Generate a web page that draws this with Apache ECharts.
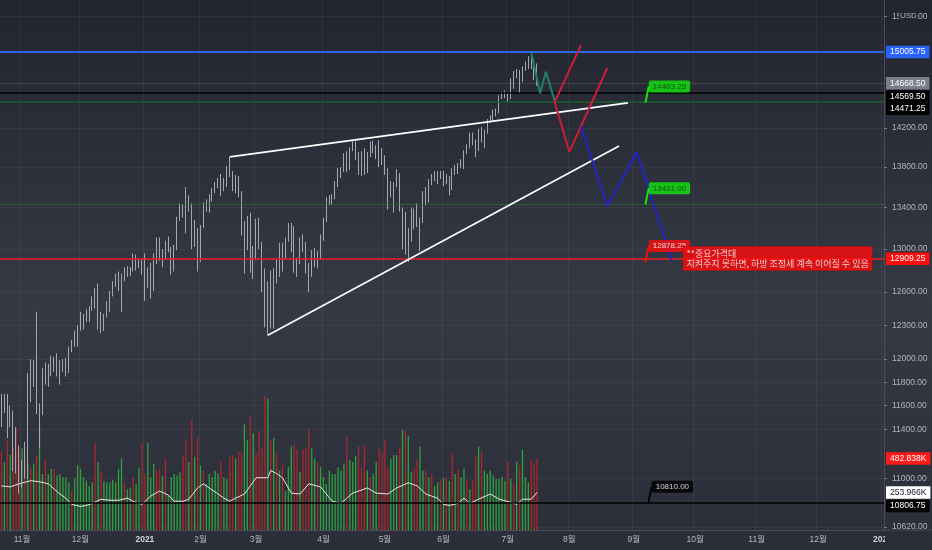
<!DOCTYPE html>
<html><head><meta charset="utf-8">
<script src="https://cdn.jsdelivr.net/npm/echarts@6/dist/echarts.min.js"></script>
<style>html,body{margin:0;padding:0;background:#2a2d38}#c{width:932px;height:550px}</style>
</head><body><div id="c"></div>
<script>
// ---------- categories (trading days) ----------
const startDate = '2020-10-22';
const endDate = '2022-01-03';
const holidays = ['2020-11-26','2020-12-25','2021-01-01','2021-01-18','2021-02-15','2021-04-02','2021-05-31','2021-07-05','2021-09-06','2021-11-25','2021-12-24'];

// ---------- daily OHLC, 2020-10-22 .. 2021-07-16 ----------
const opens = [11560,11650,11660,11440,11540,11080,11260,10960,11030,11220,11640,11940,12000,11570,11540,11890,11830,11940,11990,11950,11860,11970,11900,11940,12090,12120,12230,12270,12370,12360,12380,12460,12530,12580,12310,12390,12380,12440,12600,12670,12740,12760,12740,12810,12770,12800,12900,12850,12840,12880,12690,12800,12620,12940,13100,12930,12930,13050,12990,12800,13000,13300,13400,13370,13440,13420,13070,13190,12920,13210,13400,13380,13520,13560,13640,13640,13600,13660,13800,13750,13700,13610,13550,13160,13190,13290,12810,12920,13270,13010,12620,12380,12660,12290,12780,12750,13040,12990,13100,13160,13200,12800,12880,13090,13020,12800,12790,12980,12970,12910,13090,13290,13490,13460,13500,13640,13780,13770,13930,13780,13990,14040,13920,13810,13950,13750,13920,14040,13970,13920,13960,13850,13780,13560,13530,13620,13720,13380,13330,12990,13090,13380,13300,13230,13280,13540,13460,13660,13680,13730,13700,13690,13660,13700,13580,13770,13800,13800,13810,13960,14020,14140,14040,14030,14160,14070,14170,14270,14290,14370,14360,14530,14560,14550,14520,14700,14780,14800,14710,14840,14880,14850,14900,14780];
const highs = [11700,11700,11700,11600,11560,11420,11270,11150,11300,11880,12000,11990,12420,11620,11920,11970,11960,12030,12020,12050,11990,12000,12010,12110,12170,12250,12300,12420,12400,12440,12470,12560,12640,12680,12420,12400,12520,12610,12700,12770,12790,12770,12830,12840,12830,12960,12950,12910,12900,12960,12830,12870,12960,13110,13110,13000,13080,13120,13020,13040,13310,13440,13430,13600,13520,13440,13280,13200,13230,13450,13480,13530,13590,13650,13690,13730,13690,13810,13902,13760,13720,13710,13560,13270,13320,13350,13030,13290,13300,13070,12820,12700,12800,12820,12900,13060,13060,13110,13250,13250,13220,12920,13110,13140,13070,12870,12990,13010,12980,13140,13300,13500,13520,13530,13660,13790,13800,13940,13960,14000,14060,14060,13950,13960,13990,13950,14060,14070,14020,14070,13990,13920,13790,13660,13650,13780,13740,13400,13360,13200,13400,13390,13440,13300,13560,13600,13680,13730,13760,13760,13760,13760,13730,13710,13790,13820,13840,13880,13970,14030,14150,14150,14080,14190,14210,14180,14290,14330,14390,14400,14540,14580,14590,14570,14720,14800,14820,14810,14850,14900,14960,15005.75,14930,14880];
const lows = [11420,11540,11330,11420,11060,11040,10880,10930,11000,11000,11630,11760,11530,11250,11520,11780,11760,11850,11890,11850,11780,11890,11850,11880,12060,12110,12110,12250,12260,12330,12330,12430,12450,12260,12230,12250,12370,12420,12560,12650,12610,12420,12700,12740,12750,12790,12800,12820,12760,12520,12640,12540,12610,12860,12890,12830,12900,12970,12760,12790,12990,13270,13300,13150,13360,13000,13020,12790,12880,13200,13360,13350,13460,13540,13590,13510,13560,13600,13700,13560,13540,13500,13130,12770,12990,12780,12720,12900,13000,12600,12280,12208,12270,12270,12680,12740,12790,12910,13070,12970,12780,12740,12860,12970,12770,12600,12740,12830,12820,12900,13080,13260,13420,13430,13480,13600,13690,13750,13750,13770,13960,13870,13720,13710,13720,13740,13900,13940,13880,13800,13820,13720,13380,13500,13350,13600,13360,13000,12950,12880,13070,13190,13210,12980,13250,13420,13450,13620,13660,13630,13680,13610,13630,13520,13570,13720,13730,13790,13780,13930,13990,14020,13900,13960,14050,13990,14140,14250,14280,14320,14350,14500,14510,14470,14500,14610,14720,14560,14680,14800,14820,14820,14700,14640];
const closes = [11650,11660,11440,11560,11080,11260,10960,11030,11220,11640,11940,11910,11570,11540,11890,11830,11940,11990,11950,11860,11970,11900,11940,12090,12120,12230,12270,12370,12360,12380,12460,12530,12580,12310,12390,12380,12440,12600,12670,12740,12760,12740,12810,12770,12800,12900,12850,12840,12880,12690,12800,12620,12940,13100,12930,12930,13050,12990,12800,13000,13300,13400,13370,13440,13420,13070,13190,12920,13210,13400,13380,13520,13560,13640,13640,13600,13660,13800,13750,13700,13610,13550,13160,13190,13290,12810,12920,13270,13010,12620,12380,12660,12290,12780,12750,13040,12990,13100,13160,13200,12800,12880,13090,13020,12800,12790,12980,12970,12910,13090,13290,13490,13460,13500,13640,13780,13770,13930,13780,13990,14040,13920,13810,13950,13750,13920,14040,13970,13920,13960,13850,13780,13560,13530,13620,13720,13380,13330,12990,13090,13380,13300,13230,13280,13540,13460,13660,13680,13730,13700,13690,13660,13700,13580,13770,13800,13800,13810,13960,14020,14140,14040,14030,14160,14070,14170,14270,14290,14370,14360,14530,14560,14550,14520,14700,14780,14800,14710,14840,14880,14850,14900,14780,14668.5];

// ---------- volume (thousands) and its colour (g = up, r = down) ----------
const volumes = [527,459,610,506,564,691,541,552,483,448,425,450,500,691,379,471,379,414,414,368,379,356,356,321,263,350,437,414,356,333,298,321,587,460,400,330,321,321,340,321,414,483,321,275,286,356,310,420,587,379,587,356,448,402,414,368,483,229,356,379,368,390,500,610,460,748,494,621,437,402,310,379,356,400,380,460,356,344,494,506,483,529,529,714,610,771,656,517,668,560,910,887,610,621,517,402,437,263,425,564,575,541,391,541,552,679,552,483,460,425,356,310,402,379,379,425,402,448,633,471,460,500,564,425,575,402,356,380,460,552,517,610,425,480,506,506,552,679,668,633,391,414,480,564,402,402,356,379,298,320,333,350,356,333,517,379,414,356,414,333,275,333,494,564,529,402,379,402,368,344,344,360,333,460,344,321,460,437,541,356,321,471,448,483];
const volDir = 'rgrgrrrgrg'+'rgrggrggrg'+'ggggrggggg'+'ggrgrggggg'+'ggrggrggrr'+'gggrrgrggg'+'ggrrgrgrgr'+'gggggrggrr'+'grrggrgrrr'+'rgrgrgrggg'+'rrgrrrggrg'+'ggggggggrg'+'ggrrrgrggr'+'rrrgggrgrg'+'grrggrgrgg'+'rgrgrgrggr'+'grrgrggggg'+'gggrgrgrgg'+'grrr';
// volume moving average (bar index, thousands)
const maIdx = [0,3,6,10,13,16,18,20,22,24,27,29,31,34,37,40,43,45,47,48,51,54,57,59,62,64,67,69,71,74,76,78,80,83,85,87,91,92,94,96,98,99,102,105,109,111,113,116,118,120,125,128,132,135,139,142,145,149,151,153,156,158,160,163,167,170,174,176,178,181,183];
const maVal = [298,291,312,333,326,312,277,243,215,173,159,166,180,208,201,201,215,194,180,173,229,263,236,194,194,208,284,312,284,243,215,194,215,243,298,353,353,402,381,353,284,249,243,312,291,243,194,180,215,249,284,249,243,284,319,298,243,215,173,166,180,215,180,208,243,208,187,173,208,208,254];
const volLabels = [482.838, 253.966];

// ---------- price scale ticks ----------
const priceTicks = [15400,14200,13800,13400,13000,12600,12300,12000,11800,11600,11400,11000,10620];
const priceMin = 10597, priceMax = 15584, volMax = 3580;

// ---------- drawn horizontal levels ----------
const levelPrices = [15005.75, 14668.50, 14569.50, 14471.25, 13431.00, 12909.25, 10806.75];

// ---------- drawn trend lines and projections (bar index, price) ----------
const upperIdx = [78, 214], upperPrice = [13902, 14460];
const lowerIdx = [91, 211], lowerPrice = [12210, 14014];
const tealIdx = [181, 184, 186, 189], tealPrice = [15000, 14560, 14790, 14480];
const redIdx = [198, 189, 194, 207], redPrice = [15082, 14469, 13952, 14832];
const blueIdx = [198, 207, 217, 229], bluePrice = [14209, 13415, 13952, 12898];

// ---------- price callouts ----------
const calloutIdx = [220, 220, 220, 221];
const calloutPrice = [14463.25, 13431.00, 12878.25, 10810.00];

// ---------- note ----------
const noteIdx = 233, notePrice = 13020;
const noteText = '**중요가격대\n지켜주지 못하면, 하방 조정세 계속 이어질 수 있음';

// ===================================================
function buildDates() {
  const out = [];
  const d = new Date(startDate + 'T00:00:00Z');
  const end = new Date(endDate + 'T00:00:00Z');
  while (d <= end) {
    const wd = d.getUTCDay();
    const s = d.toISOString().slice(0, 10);
    if (wd !== 0 && wd !== 6 && holidays.indexOf(s) < 0) out.push(s);
    d.setUTCDate(d.getUTCDate() + 1);
  }
  return out;
}
const dates = buildDates();
const L = Math.log;
const FONT = "'Liberation Sans', Arial, 'Noto Sans CJK KR', sans-serif";
const isMonthStart = (i) => i > 0 && dates[i].slice(5, 7) !== dates[i - 1].slice(5, 7);
const pts = (idx, pr) => idx.map((x, k) => [x, L(pr[k])]);

const levelStyle = [
  { line: { color: '#2f66e8', width: 2 }, bg: '#2962ff', fg: '#fff', dy: 0 },
  { line: { color: 'rgba(140,143,152,0.25)', width: 1 }, bg: '#7b7e88', fg: '#fff', dy: 0 },
  { line: { color: '#000000', width: 1.5 }, bg: '#000000', fg: '#fff', dy: 4 },
  { line: { color: '#1d5e29', width: 1.5 }, bg: '#000000', fg: '#fff', dy: 7 },
  { line: { color: 'rgba(40,110,50,0.75)', width: 1 }, bg: null },
  { line: { color: '#f01c25', width: 1.5 }, bg: '#ff0d0d', fg: '#fff', dy: 0 },
  { line: { color: '#000000', width: 1.5 }, bg: '#000000', fg: '#fff', dy: 3 }
];
const calloutStyle = [
  { bg: '#14e60f', fg: '#0b3d0b' },
  { bg: '#14e60f', fg: '#0b3d0b' },
  { bg: '#ff0d0d', fg: '#ffffff' },
  { bg: '#000000', fg: '#ffffff' }
];

const chart = echarts.init(document.getElementById('c'), null, { renderer: 'canvas' });
const candleColor = '#a4a7af';
const option = {
  animation: false,
  backgroundColor: { type: 'linear', x: 0, y: 0, x2: 0, y2: 1,
    colorStops: [{ offset: 0, color: '#22252e' }, { offset: 0.55, color: '#353944' }, { offset: 1, color: '#2b2e39' }] },
  grid: { left: 0, right: 48, top: 0, bottom: 20 },
  xAxis: {
    type: 'category', data: dates, boundaryGap: true,
    axisLine: { show: true, lineStyle: { color: '#4a4e59' } },
    axisTick: { show: false },
    axisLabel: {
      interval: (i) => isMonthStart(i),
      formatter: (v) => { const m = +v.slice(5, 7); return m === 1 ? '{y|' + v.slice(0, 4) + '}' : m + '월'; },
      color: '#b2b5be', fontSize: 8.5, margin: 5, fontFamily: FONT,
      rich: { y: { fontWeight: 'bold', color: '#d1d4dc', fontSize: 8.5, fontFamily: FONT } }
    },
    splitLine: { show: true, interval: (i) => isMonthStart(i), lineStyle: { color: 'rgba(255,255,255,0.05)' } }
  },
  yAxis: [{
    type: 'value', position: 'right', min: L(priceMin), max: L(priceMax),
    axisLine: { show: true, lineStyle: { color: '#4a4e59' } },
    axisTick: { show: true, customValues: priceTicks.map(L), length: 3, lineStyle: { color: '#787b86' } },
    axisLabel: { customValues: priceTicks.map(L), formatter: (v) => Math.exp(v).toFixed(2), color: '#b2b5be', fontSize: 8.5, margin: 8, fontFamily: FONT },
    splitLine: { show: true, lineStyle: { color: 'rgba(255,255,255,0.045)' } }
  }, {
    type: 'value', min: 0, max: volMax, show: false, splitLine: { show: false }
  }],
  series: [
    {
      type: 'bar', yAxisIndex: 1, barWidth: 1.3, silent: true, z: 1,
      data: volumes.map((v, i) => ({ value: v, itemStyle: { color: volDir[i] === 'g' ? 'rgba(46,190,60,0.8)' : 'rgba(200,36,40,0.8)' } })),
      markLine: {
        symbol: ['none', 'none'], silent: true, precision: 10,
        data: volLabels.map((v, k) => ({
          yAxis: v, lineStyle: { color: 'rgba(0,0,0,0)', width: 0 },
          label: { show: true, position: 'end', distance: 2, formatter: v.toFixed(3) + 'K', fontSize: 8.5, fontFamily: FONT,
            padding: [2, 4, 2, 4], color: k === 0 ? '#fff' : '#131722', backgroundColor: k === 0 ? '#ff1a1a' : '#ffffff' }
        }))
      }
    },
    {
      type: 'line', yAxisIndex: 1, silent: true, z: 2, symbol: 'none',
      data: maIdx.map((x, k) => [x, maVal[k]]),
      lineStyle: { color: '#e6e6e6', width: 1 }
    },
    {
      type: 'candlestick', yAxisIndex: 0, barWidth: 1, silent: true, z: 3,
      data: opens.map((o, i) => [L(o), L(closes[i]), L(lows[i]), L(highs[i])]),
      itemStyle: { color: candleColor, color0: candleColor, borderColor: candleColor, borderColor0: candleColor, borderWidth: 1 },
      markLine: {
        symbol: ['none', 'none'], silent: true, precision: 10,
        data: levelPrices.map((p, k) => {
          const st = levelStyle[k];
          return {
            yAxis: L(p), lineStyle: Object.assign({ type: 'solid' }, st.line),
            label: st.bg ? { show: true, position: 'end', distance: 2, offset: [0, st.dy], formatter: p.toFixed(2),
              fontSize: 8.5, fontFamily: FONT, padding: [2, 4, 2, 4], color: st.fg, backgroundColor: st.bg } : { show: false }
          };
        })
      }
    },
    { type: 'line', yAxisIndex: 0, silent: true, z: 5, symbol: 'none', data: pts(upperIdx, upperPrice), lineStyle: { color: '#ffffff', width: 1.8 } },
    { type: 'line', yAxisIndex: 0, silent: true, z: 5, symbol: 'none', data: pts(lowerIdx, lowerPrice), lineStyle: { color: '#ffffff', width: 1.6 } },
    { type: 'line', yAxisIndex: 0, silent: true, z: 5, symbol: 'none', data: pts(tealIdx, tealPrice), lineStyle: { color: '#1f8068', width: 2 } },
    { type: 'line', yAxisIndex: 0, silent: true, z: 5, symbol: 'none', data: pts(redIdx, redPrice), lineStyle: { color: '#c81e3a', width: 2 } },
    { type: 'line', yAxisIndex: 0, silent: true, z: 5, symbol: 'none', data: pts(blueIdx, bluePrice), lineStyle: { color: '#2323c8', width: 2 } },
    {
      type: 'scatter', yAxisIndex: 0, silent: true, z: 6, symbolSize: 0,
      data: calloutIdx.map((x, k) => ({
        value: [x, L(calloutPrice[k])],
        label: { show: true, position: 'inside', formatter: calloutPrice[k].toFixed(2), fontSize: 8, fontFamily: FONT,
          color: calloutStyle[k].fg, backgroundColor: calloutStyle[k].bg, padding: [2, 4, 2, 4], borderRadius: 2 },
        labelLine: { show: true, lineStyle: { color: calloutStyle[k].bg, width: 2 } }
      })),
      labelLayout: { dx: 24, dy: -16 },
      labelLine: { show: true, smooth: false, length2: 0 }
    },
    {
      type: 'scatter', yAxisIndex: 0, silent: true, z: 7, symbolSize: 0,
      data: [[noteIdx, L(notePrice)]],
      label: { show: true, position: [0, 0], align: 'left', verticalAlign: 'top', formatter: noteText,
        fontSize: 9, lineHeight: 10.5, fontFamily: "'Noto Sans CJK KR', sans-serif", color: '#ffffff',
        backgroundColor: '#ff0a0a', borderColor: '#a01818', borderWidth: 1, padding: [1, 3, 1, 3] }
    }
  ],
  graphic: [
    { type: 'line', shape: { x1: 884, y1: 530, x2: 932, y2: 530 }, style: { stroke: '#4a4e59', lineWidth: 1 }, z: 50, silent: true },
    { type: 'rect', shape: { x: 885, y: 531, width: 47, height: 19 }, style: { fill: '#2b2e39' }, z: 100, silent: true },
    { type: 'rect', shape: { x: 899, y: 10, width: 18, height: 12 }, style: { fill: '#23262f' }, z: 100, silent: true },
    { type: 'text', x: 900, y: 12, style: { text: 'USD', fill: '#b2b5be', fontSize: 8, fontFamily: FONT }, z: 101, silent: true }
  ]
};
chart.setOption(option);
</script></body></html>
